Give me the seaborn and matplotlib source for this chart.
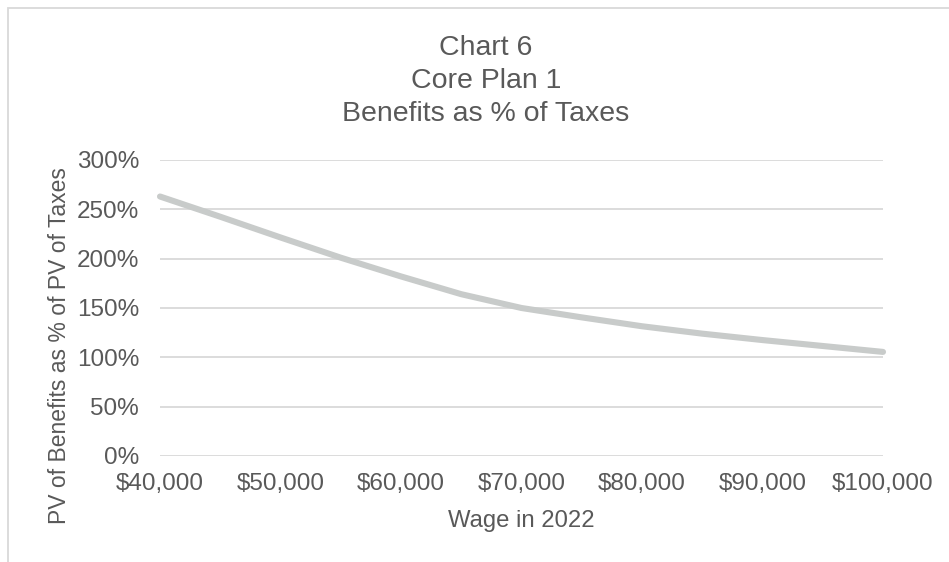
import matplotlib
matplotlib.use("Agg")
import matplotlib.pyplot as plt
import matplotlib.ticker as mticker
from matplotlib.patches import Rectangle
import seaborn as sns
import pandas as pd

# Wage levels and benefits-to-taxes ratio (present values, in percent)
wages = [40000, 45000, 50000, 55000, 60000, 65000, 70000,
         75000, 80000, 85000, 90000, 95000, 100000]
benefit_pct = [263.0, 242.5, 221.5, 201.0, 182.0, 164.0, 150.0,
               140.5, 131.5, 124.0, 117.5, 111.5, 105.5]

title_lines = ["Chart 6", "Core Plan 1", "Benefits as % of Taxes"]
x_label = "Wage in 2022"
y_label = "PV of Benefits as % of PV of Taxes"
y_ticks = [0, 50, 100, 150, 200, 250, 300]
x_ticks = [40000, 50000, 60000, 70000, 80000, 90000, 100000]

sns.set_theme(style="white")
plt.rcParams["font.family"] = ["Liberation Sans", "DejaVu Sans"]

TEXT = "#595959"
GRID = "#D9D9D9"
LINE = "#C8CBCA"

W, H, DPI = 949, 562, 100
fig = plt.figure(figsize=(W / DPI, H / DPI), dpi=DPI)
fig.patch.set_facecolor("white")

# chart frame
fig.patches.append(Rectangle((8 / W, -0.05), 1.2, 1.05 - 8 / H,
                             transform=fig.transFigure, fill=False,
                             edgecolor=GRID, linewidth=1.3))

left, right, top, bottom = 160, 883, 160, 456
ax = fig.add_axes([left / W, (H - bottom) / H, (right - left) / W, (bottom - top) / H])

df = pd.DataFrame({"wage": wages, "pct": benefit_pct})
sns.lineplot(data=df, x="wage", y="pct", ax=ax, color=LINE, linewidth=4.4,
             solid_capstyle="round", solid_joinstyle="round", zorder=3)

ax.set_xlim(40000, 100000)
ax.set_ylim(0, 300)
ax.set_yticks(y_ticks)
ax.set_xticks(x_ticks)
ax.yaxis.set_major_formatter(mticker.FuncFormatter(lambda v, p: f"{v:.0f}%"))
ax.xaxis.set_major_formatter(mticker.FuncFormatter(lambda v, p: f"${v:,.0f}"))

for s in ax.spines.values():
    s.set_visible(False)
ax.grid(axis="y", color=GRID, linewidth=1.3)
ax.grid(axis="x", visible=False)
ax.tick_params(axis="both", length=0, labelsize=17.5, colors=TEXT)
ax.tick_params(axis="y", pad=15)
ax.tick_params(axis="x", pad=12)
ax.set_axisbelow(True)
for ln in ax.lines:
    ln.set_clip_on(False)

ax.set_xlabel(x_label, fontsize=17.2, color=TEXT)
ax.set_ylabel(y_label, fontsize=16.5, color=TEXT)
ax.xaxis.label.set_va("baseline")
ax.xaxis.set_label_coords(0.5, (bottom - 527) / (bottom - top))
ax.yaxis.label.set_va("center")
ax.yaxis.set_label_coords((60 - left) / (right - left), (bottom - 346) / (bottom - top))

for line, base in zip(title_lines, [55, 88, 121]):
    fig.text(486 / W, (H - base) / H, line, ha="center", va="baseline",
             fontsize=20.5, color=TEXT)

fig.savefig("out.png", dpi=DPI, facecolor="white")
